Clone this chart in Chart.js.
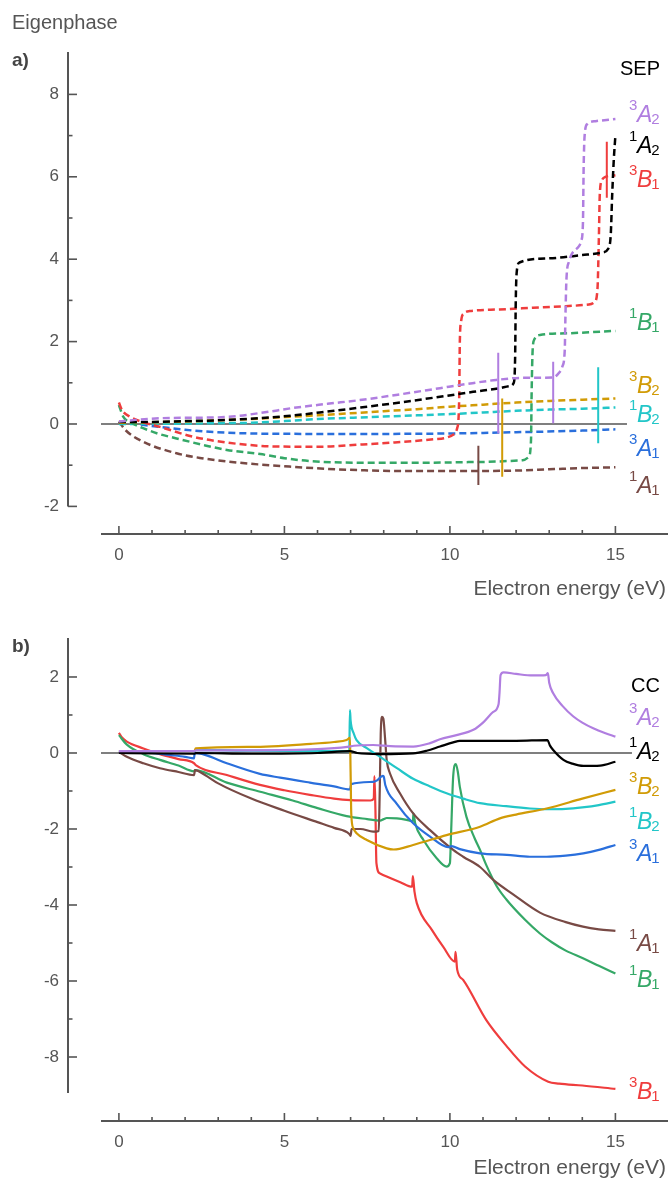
<!DOCTYPE html>
<html>
<head>
<meta charset="utf-8">
<title>Eigenphases</title>
<script src="https://cdn.jsdelivr.net/npm/chart.js@4.4.1/dist/chart.umd.min.js"></script>
<style>
  html, body { margin: 0; padding: 0; background: #fff; }
  #wrap { position: relative; width: 668px; height: 1180px; }
  canvas { position: absolute; left: 0; }
  #sep { top: 0; }
  #cc { top: 600px; }
</style>
</head>
<body>
<div id="wrap">
  <canvas id="sep" width="668" height="600"></canvas>
  <canvas id="cc" width="668" height="580"></canvas>
</div>
<script>
// ---- data: [energy (eV), eigenphase] ----
var xTicks = [0, 5, 10, 15];
var xMinor = [0,1,2,3,4,5,6,7,8,9,10,11,12,13,14,15];
var sepTicks = [-2, 0, 2, 4, 6, 8];
var sepMinor = [-1, 1, 3, 5, 7];
var ccTicks = [-8, -6, -4, -2, 0, 2];
var ccMinor = [-7, -5, -3, -1, 1];

// SEP (dashed)
var sep3A2 = [[0,0.06],[0.5,0.1],[1.24,0.14],[2,0.15],[3.26,0.17],[4.3,0.27],[5.27,0.39],[6.3,0.49],[7.28,0.58],[8.5,0.72],[9.7,0.87],[10.5,0.97],[11.4,1.07],[12.2,1.12],[13.1,1.13],[13.25,1.2],[13.4,1.4],[13.47,1.8],[13.49,2.6],[13.52,3.5],[13.6,3.95],[13.7,4.15],[13.85,4.27],[13.97,4.45],[14.02,4.9],[14.04,6.2],[14.07,7.0],[14.15,7.28],[14.4,7.35],[15,7.4]];
var sep1A2 = [[0,0.05],[1,0.05],[2,0.07],[3,0.09],[4.26,0.14],[5.3,0.21],[6.28,0.3],[7.3,0.4],[8.28,0.5],[9.7,0.66],[10.7,0.78],[11.5,0.87],[11.8,0.92],[11.93,1.0],[11.97,1.6],[11.99,3.0],[12.02,3.7],[12.1,3.92],[13,4.02],[14,4.1],[14.6,4.16],[14.78,4.25],[14.86,4.6],[14.9,5.5],[14.95,6.4],[15,7.0]];
var sep3B1 = [[0,0.52],[0.1,0.33],[0.33,0.18],[0.7,0.05],[1.24,-0.07],[2.24,-0.31],[3.26,-0.45],[4.27,-0.53],[5.2,-0.55],[6.08,-0.55],[7.28,-0.5],[8.29,-0.45],[9.5,-0.37],[9.9,-0.33],[10.1,-0.26],[10.22,-0.1],[10.28,0.6],[10.3,2.0],[10.34,2.5],[10.42,2.68],[10.6,2.74],[11.5,2.78],[12.5,2.82],[13.5,2.86],[14.2,2.9],[14.38,2.97],[14.46,3.3],[14.5,4.5],[14.53,5.6],[14.6,5.93],[14.7,6.0],[15,6.04]];
var sep1B1 = [[0,0.46],[0.13,0.18],[0.4,0.02],[0.73,-0.1],[1.2,-0.24],[1.74,-0.35],[2.5,-0.5],[3.26,-0.63],[4.27,-0.73],[5,-0.83],[5.77,-0.9],[7.28,-0.94],[9,-0.94],[11,-0.92],[12.2,-0.88],[12.38,-0.8],[12.45,-0.4],[12.47,0.8],[12.5,1.8],[12.55,2.05],[12.72,2.16],[13.5,2.2],[14.3,2.23],[15,2.26]];
var sep3B2 = [[0,0.03],[1,0.04],[2,0.06],[3,0.09],[4,0.12],[5,0.17],[6,0.21],[7,0.26],[8,0.31],[9,0.36],[10,0.42],[11,0.47],[12,0.52],[13,0.56],[14,0.59],[15,0.62]];
var sep1B2 = [[0,0.0],[2,0.01],[3,0.02],[4,0.03],[5,0.07],[6,0.12],[7,0.15],[8,0.18],[9,0.21],[10,0.24],[11,0.28],[12,0.32],[13,0.35],[14,0.37],[15,0.4]];
var sep3A1 = [[0,0.05],[0.5,0.0],[1.24,-0.07],[2,-0.14],[2.75,-0.19],[4,-0.23],[6,-0.24],[8,-0.24],[10,-0.23],[12,-0.2],[14,-0.16],[15,-0.13]];
var sep1A1 = [[0,0.06],[0.2,-0.15],[0.73,-0.43],[1.74,-0.71],[2.5,-0.83],[3.26,-0.91],[4.2,-0.98],[5.27,-1.04],[6.3,-1.09],[7.28,-1.12],[8.5,-1.14],[9.7,-1.14],[11,-1.14],[12,-1.13],[13,-1.1],[14,-1.07],[15,-1.05]];
// narrow resonances: [energy, top, bottom]
var sep3A2Spikes = [[11.46,1.73,-0.23],[13.12,1.51,0.02]];
var sep3B1Spikes = [[14.74,6.85,5.49]];
var sep3B2Spikes = [[11.58,0.62,-1.28]];
var sep1B2Spikes = [[14.48,1.38,-0.47]];
var sep1A1Spikes = [[10.86,-0.53,-1.48]];

// CC (solid)
var cc3A2 = [[0,0.05],[1,0.05],[2.28,0.05],[2.32,0.07],[4,0.07],[6,0.1],[6.9,0.16],[7.1,0.19],[7.68,0.21],[8.2,0.18],[8.89,0.17],[9.4,0.26],[9.7,0.36],[10.2,0.47],[10.71,0.61],[11,0.8],[11.31,1.08],[11.47,1.28],[11.5,1.6],[11.53,2.05],[11.62,2.12],[12,2.08],[12.5,2.04],[12.9,2.05],[12.96,2.1],[13.0,1.85],[13.12,1.57],[13.4,1.24],[13.73,0.96],[14,0.8],[14.33,0.65],[14.7,0.52],[15,0.43]];
var cc1A2 = [[0,0.0],[1,-0.01],[2.28,-0.02],[2.32,0.0],[4,-0.02],[6,0.0],[6.98,0.05],[7.2,0.0],[7.89,-0.03],[8.89,-0.01],[9.3,0.06],[9.7,0.17],[10.1,0.28],[10.3,0.32],[11,0.32],[12,0.32],[12.95,0.34],[13.02,0.2],[13.12,0.08],[13.43,-0.18],[13.7,-0.28],[14.03,-0.34],[14.54,-0.33],[15,-0.23]];
var cc3B2 = [[0,0.05],[1,0.05],[2.28,0.05],[2.32,0.12],[4,0.16],[5.8,0.24],[6.5,0.29],[6.88,0.34],[6.98,0.4],[7.0,-0.5],[7.02,-1.6],[7.08,-1.98],[7.18,-2.11],[7.49,-2.29],[8.09,-2.51],[8.3,-2.54],[8.89,-2.42],[9.9,-2.16],[10.91,-1.94],[11.51,-1.72],[12,-1.62],[12.92,-1.46],[14,-1.2],[15,-0.97]];
var cc1B2 = [[0,0.05],[2.28,0.05],[2.32,0.08],[4,0.06],[6,0.05],[6.96,0.05],[6.98,1.13],[7.0,0.85],[7.1,0.5],[7.18,0.34],[7.5,0.12],[7.89,-0.1],[8.4,-0.4],[8.89,-0.68],[9.4,-0.88],[9.9,-1.06],[10.4,-1.2],[10.91,-1.32],[11.7,-1.4],[12.42,-1.46],[12.92,-1.48],[13.5,-1.47],[14,-1.43],[14.5,-1.37],[15,-1.28]];
var cc3A1 = [[0,0.03],[0.5,0.02],[1,0.0],[1.5,-0.05],[2.0,-0.1],[2.27,-0.14],[2.29,0.0],[2.6,-0.05],[3.26,-0.27],[4.26,-0.55],[4.87,-0.65],[5.77,-0.78],[6.5,-0.88],[6.98,-0.96],[7.02,-0.82],[7.68,-0.76],[7.8,-0.72],[7.97,-0.6],[8.0,-0.62],[8.05,-0.85],[8.39,-1.33],[8.89,-1.85],[9.4,-2.2],[9.95,-2.48],[10.05,-2.45],[10.3,-2.53],[10.91,-2.64],[11.72,-2.68],[12.42,-2.73],[12.92,-2.73],[13.5,-2.7],[14.03,-2.64],[14.5,-2.55],[15,-2.42]];
var cc1A1 = [[0,0.03],[0.24,-0.1],[0.74,-0.27],[1.24,-0.4],[1.8,-0.5],[2.27,-0.58],[2.3,-0.45],[2.6,-0.58],[3,-0.8],[4,-1.2],[5,-1.52],[6,-1.82],[6.5,-1.97],[6.96,-2.13],[7.0,-2.18],[7.03,-2.0],[7.3,-2.0],[7.68,-2.07],[7.85,-2.05],[7.88,-1.0],[7.91,0.5],[7.95,0.95],[7.99,0.9],[8.04,0.4],[8.09,-0.18],[8.19,-0.54],[8.49,-1.06],[8.89,-1.59],[9.4,-2.03],[10.1,-2.55],[10.4,-2.73],[10.91,-3.0],[11.31,-3.34],[11.91,-3.72],[12.72,-4.2],[13.5,-4.45],[14.02,-4.57],[14.5,-4.64],[15,-4.68]];
var cc1B1 = [[0,0.47],[0.24,0.22],[0.74,-0.03],[1.24,-0.18],[1.8,-0.33],[2.27,-0.48],[2.3,-0.45],[3.26,-0.78],[4.27,-1.02],[5.25,-1.25],[6,-1.45],[6.88,-1.66],[7.5,-1.74],[7.89,-1.78],[8.0,-1.74],[8.09,-1.71],[8.4,-1.72],[8.69,-1.76],[8.88,-1.8],[8.9,-1.59],[8.95,-1.85],[9.2,-2.29],[9.6,-2.77],[9.9,-2.99],[10.0,-2.9],[10.04,-2.0],[10.1,-0.6],[10.18,-0.29],[10.24,-0.5],[10.3,-0.89],[10.5,-1.68],[10.75,-2.25],[10.91,-2.55],[11.1,-2.95],[11.41,-3.5],[11.7,-3.85],[12.27,-4.39],[12.72,-4.75],[13.08,-4.98],[13.5,-5.2],[14.02,-5.4],[14.5,-5.6],[15,-5.8]];
var cc3B1 = [[0,0.53],[0.1,0.4],[0.24,0.3],[0.74,0.12],[1.24,-0.03],[1.8,-0.16],[2.27,-0.27],[2.32,-0.32],[3.26,-0.58],[4.26,-0.84],[5,-0.98],[5.77,-1.1],[6.5,-1.2],[7.0,-1.24],[7.6,-1.25],[7.7,-1.2],[7.72,-0.61],[7.75,-1.5],[7.78,-2.9],[7.89,-3.17],[8.09,-3.25],[8.5,-3.4],[8.86,-3.52],[8.88,-3.24],[8.93,-3.65],[9.0,-3.95],[9.46,-4.66],[9.8,-5.1],[10.15,-5.49],[10.17,-5.23],[10.22,-5.7],[10.4,-5.97],[11.1,-7.03],[11.7,-7.7],[12.27,-8.25],[12.97,-8.65],[13.3,-8.7],[14,-8.75],[15,-8.84]];

var sepZero = [[-0.55,0],[15.35,0]];
var ccZero = [[-0.55,0],[15.5,0]];

var col = {
  A2t: '#b07ee0', A2s: '#000000', B1t: '#ef3d3d', B1s: '#35a867',
  B2t: '#d19b06', B2s: '#22c6c8', A1t: '#2a6fdc', A1s: '#784a45'
};

function curve(pts, color, dashed) {
  return {
    data: pts.map(function(p) { return {x: p[0], y: p[1]}; }),
    borderColor: color,
    borderWidth: dashed ? 2.5 : 2.2,
    borderDash: dashed ? [7, 4] : [],
    pointRadius: 0,
    fill: false,
    cubicInterpolationMode: 'monotone'
  };
}
function spikes(list, color) {
  return list.map(function(s) {
    return { data: [{x: s[0], y: s[1]}, {x: s[0], y: s[2]}], borderColor: color,
             borderWidth: 2, pointRadius: 0, fill: false };
  });
}

// axes, tick labels, titles and state labels
var frame = {
  id: 'frame',
  afterDatasetsDraw: function(chart, args, o) {
    var ctx = chart.ctx, xs = chart.scales.x, ys = chart.scales.y, a = chart.chartArea;
    ctx.save();
    ctx.strokeStyle = '#555';
    ctx.fillStyle = '#555';
    // y axis
    ctx.lineWidth = 2;
    ctx.beginPath();
    ctx.moveTo(o.axisX, a.top);
    ctx.lineTo(o.axisX, ys.getPixelForValue(o.yFrom));
    ctx.stroke();
    ctx.lineWidth = 1.6;
    o.yTicks.forEach(function(v) {
      var py = ys.getPixelForValue(v);
      ctx.beginPath(); ctx.moveTo(o.axisX, py); ctx.lineTo(o.axisX + 9, py); ctx.stroke();
    });
    o.yMinor.forEach(function(v) {
      var py = ys.getPixelForValue(v);
      ctx.beginPath(); ctx.moveTo(o.axisX, py); ctx.lineTo(o.axisX + 4.5, py); ctx.stroke();
    });
    ctx.font = '17px "Liberation Sans", Arial, sans-serif';
    ctx.textAlign = 'right';
    ctx.textBaseline = 'middle';
    o.yTicks.forEach(function(v) {
      ctx.fillText(String(v), o.axisX - 9, ys.getPixelForValue(v));
    });
    // x axis
    ctx.lineWidth = 2;
    ctx.beginPath();
    ctx.moveTo(a.left, a.bottom);
    ctx.lineTo(a.right, a.bottom);
    ctx.stroke();
    ctx.lineWidth = 1.6;
    xMinor.forEach(function(v) {
      var px = xs.getPixelForValue(v);
      var len = xTicks.indexOf(v) >= 0 ? 8 : 4;
      ctx.beginPath(); ctx.moveTo(px, a.bottom); ctx.lineTo(px, a.bottom - len); ctx.stroke();
    });
    ctx.textAlign = 'center';
    xTicks.forEach(function(v) {
      ctx.fillText(String(v), xs.getPixelForValue(v), a.bottom + 21);
    });
    ctx.font = '21px "Liberation Sans", Arial, sans-serif';
    ctx.textAlign = 'right';
    ctx.fillText('Electron energy (eV)', 666, a.bottom + o.titleGap);
    if (o.yTitle) {
      ctx.font = '20px "Liberation Sans", Arial, sans-serif';
      ctx.textAlign = 'left';
      ctx.textBaseline = 'alphabetic';
      ctx.fillText(o.yTitle, 12, 29);
    }
    // panel tag
    ctx.fillStyle = '#444';
    ctx.font = 'bold 19px "Liberation Sans", Arial, sans-serif';
    ctx.textAlign = 'left';
    ctx.textBaseline = 'alphabetic';
    ctx.fillText(o.tag, 12, o.tagY);
    // method name
    ctx.fillStyle = '#000';
    ctx.font = '20px "Liberation Sans", Arial, sans-serif';
    ctx.textAlign = 'right';
    ctx.fillText(o.method, 660, o.methodY);
    // state labels: superscript multiplicity, italic symmetry letter, subscript index
    o.states.forEach(function(s) {
      var base = ys.getPixelForValue(s.y) + 8;
      ctx.fillStyle = s.color;
      ctx.textAlign = 'left';
      ctx.font = '15px "Liberation Sans", Arial, sans-serif';
      ctx.fillText(s.sup, 629, base - 12);
      ctx.font = 'italic 23px "Liberation Sans", Arial, sans-serif';
      ctx.fillText(s.letter, 637, base);
      var w = ctx.measureText(s.letter).width;
      ctx.font = '15px "Liberation Sans", Arial, sans-serif';
      ctx.fillText(s.sub, 637 + w - 1, base + 2);
    });
    ctx.restore();
  }
};

function makeChart(id, datasets, yMin, yMax, pad, frameOpts) {
  return new Chart(document.getElementById(id), {
    type: 'line',
    data: { datasets: datasets },
    options: {
      responsive: false,
      animation: false,
      layout: { padding: pad },
      scales: {
        x: { type: 'linear', min: -0.541, max: 16.589, display: false },
        y: { type: 'linear', min: yMin, max: yMax, display: false }
      },
      plugins: { legend: { display: false }, tooltip: { enabled: false }, frame: frameOpts }
    },
    plugins: [frame]
  });
}

var sepSets = [].concat(
  spikes(sep3A2Spikes, col.A2t), spikes(sep3B1Spikes, col.B1t), spikes(sep3B2Spikes, col.B2t),
  spikes(sep1B2Spikes, col.B2s), spikes(sep1A1Spikes, col.A1s),
  [curve(sep3A2, col.A2t, true), curve(sep1A2, col.A2s, true), curve(sep3B1, col.B1t, true),
   curve(sep1B1, col.B1s, true), curve(sep3B2, col.B2t, true), curve(sep1B2, col.B2s, true),
   curve(sep3A1, col.A1t, true), curve(sep1A1, col.A1s, true)],
  [{ data: sepZero.map(function(p) { return {x: p[0], y: p[1]}; }), borderColor: '#555', borderWidth: 1.6, pointRadius: 0 }]
);

var ccSets = [curve(cc3A2, col.A2t, false), curve(cc1A2, col.A2s, false), curve(cc3B2, col.B2t, false),
  curve(cc1B2, col.B2s, false), curve(cc3A1, col.A1t, false), curve(cc1A1, col.A1s, false),
  curve(cc1B1, col.B1s, false), curve(cc3B1, col.B1t, false),
  { data: ccZero.map(function(p) { return {x: p[0], y: p[1]}; }), borderColor: '#555', borderWidth: 1.6, pointRadius: 0 }];

makeChart('sep', sepSets, -2.67, 9.029, {left: 101, right: 0, top: 52, bottom: 66}, {
  axisX: 68, yFrom: -2, yTicks: sepTicks, yMinor: sepMinor, titleGap: 55,
  yTitle: 'Eigenphase', tag: 'a)', tagY: 66, method: 'SEP', methodY: 75,
  states: [
    {sup: '3', letter: 'A', sub: '2', color: col.A2t, y: 7.52},
    {sup: '1', letter: 'A', sub: '2', color: col.A2s, y: 6.77},
    {sup: '3', letter: 'B', sub: '1', color: col.B1t, y: 5.95},
    {sup: '1', letter: 'B', sub: '1', color: col.B1s, y: 2.48},
    {sup: '3', letter: 'B', sub: '2', color: col.B2t, y: 0.95},
    {sup: '1', letter: 'B', sub: '2', color: col.B2s, y: 0.24},
    {sup: '3', letter: 'A', sub: '1', color: col.A1t, y: -0.58},
    {sup: '1', letter: 'A', sub: '1', color: col.A1s, y: -1.48}
  ]
});

makeChart('cc', ccSets, -9.684, 3.026, {left: 101, right: 0, top: 38, bottom: 59}, {
  axisX: 68, yFrom: -8.95, yTicks: ccTicks, yMinor: ccMinor, titleGap: 47,
  yTitle: null, tag: 'b)', tagY: 52, method: 'CC', methodY: 92,
  states: [
    {sup: '3', letter: 'A', sub: '2', color: col.A2t, y: 0.95},
    {sup: '1', letter: 'A', sub: '2', color: col.A2s, y: 0.05},
    {sup: '3', letter: 'B', sub: '2', color: col.B2t, y: -0.87},
    {sup: '1', letter: 'B', sub: '2', color: col.B2s, y: -1.79},
    {sup: '3', letter: 'A', sub: '1', color: col.A1t, y: -2.63},
    {sup: '1', letter: 'A', sub: '1', color: col.A1s, y: -5.0},
    {sup: '1', letter: 'B', sub: '1', color: col.B1s, y: -5.95},
    {sup: '3', letter: 'B', sub: '1', color: col.B1t, y: -8.89}
  ]
});
</script>
</body>
</html>
